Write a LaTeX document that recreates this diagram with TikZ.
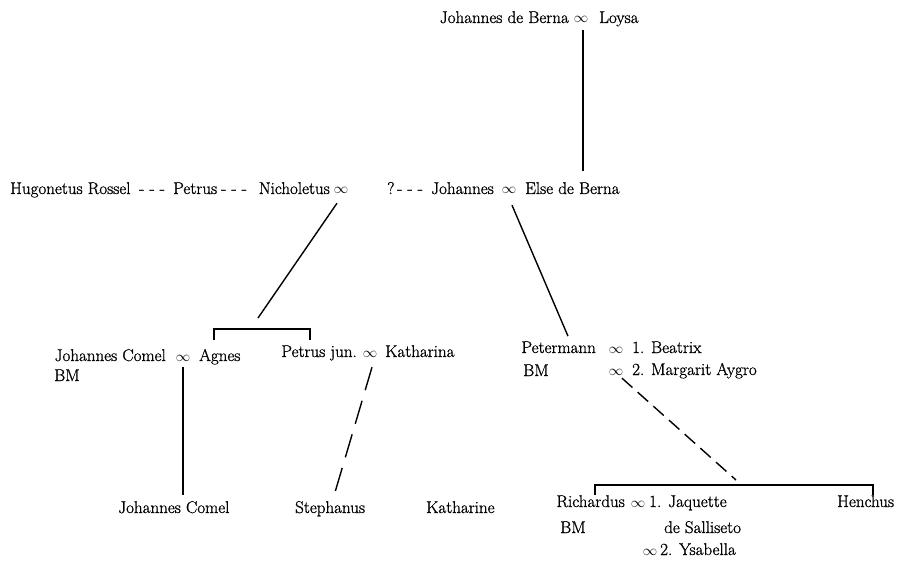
\documentclass[tikz,border=0pt]{standalone}
\usepackage{fontspec}
\setmainfont{Latin Modern Roman}[FakeBold=1]
\begin{document}
\begin{tikzpicture}[x=1pt,y=-1pt,
  txt/.style={anchor=base west, inner sep=0pt, font=\fontsize{17}{20}\selectfont},
  txr/.style={txt, anchor=base east},
  inf/.style={anchor=base, inner sep=0pt, font=\fontsize{15}{18}\selectfont},
  link/.style={line width=1.4pt},
  dlong/.style={link, dash pattern=on 24pt off 11pt},
  dshort/.style={link, dash pattern=on 14pt off 7pt}]
\useasboundingbox (0,0) rectangle (910,561);
% row 1
\node[txr] (jdb) at (569,23) {Johannes de Berna};
\node[inf] (m1) at (581,23) {$\infty$};
\node[txt] (loysa) at (599,23) {Loysa};
% row 2
\node[txt] (hug) at (10,194) {Hugonetus Rossel};
\node[txt] (d1) at (139,194) {- - -};
\node[txt] (pet) at (173,194) {Petrus};
\node[txt] (d2) at (221,194) {- - -};
\node[txr] (nich) at (330,194) {Nicholetus};
\node[inf] (m2) at (341,194) {$\infty$};
\node[txt] (q) at (387,194) {?};
\node[txt] (d3) at (397,194) {- - -};
\node[txr] (joh) at (494,194) {Johannes};
\node[inf] (m3) at (509,194) {$\infty$};
\node[txt] (else) at (525,194) {Else de Berna};
% row 3
\node[txr] (jc) at (166,361) {Johannes Comel};
\node[inf] (m4) at (183,361) {$\infty$};
\node[txt] (agnes) at (199,361) {Agnes};
\node[txt] (bm1) at (54,381) {BM};
\node[txr] (pj) at (357,357) {Petrus jun.};
\node[inf] (m5) at (370,357) {$\infty$};
\node[txt] (kath) at (385,357) {Katharina};
\node[txr] (peter) at (596,353) {Petermann};
\node[inf] (m6) at (616,353) {$\infty$};
\node[txt] (beat) at (632,353) {1. Beatrix};
\node[txt] (bm2) at (523,376) {BM};
\node[inf] (m7) at (616,375) {$\infty$};
\node[txt] (marg) at (632,375) {2. Margarit Aygro};
% row 4
\node[txt] (jc2) at (118,513) {Johannes Comel};
\node[txt] (steph) at (295,513) {Stephanus};
\node[txt] (kathe) at (426,513) {Katharine};
\node[txr] (rich) at (625,507) {Richardus};
\node[inf] (m8) at (638,507) {$\infty$};
\node[txt] (jaq) at (649,507) {1. Jaquette};
\node[txt] (bm3) at (560,533) {BM};
\node[txt] (sall) at (664,533) {de Salliseto};
\node[inf] (m9) at (650,555) {$\infty$};
\node[txt] (ysa) at (660,555) {2. Ysabella};
\node[txt] (hen) at (837,507) {Henchus};
% bracket coordinates
\coordinate (kb) at (258,318);
\coordinate (sibAL) at (214,340);
\coordinate (sibAR) at (310,340);
\coordinate (rb) at (736,480);
\coordinate (sibBL) at (595,495);
\coordinate (sibBR) at (873,495);
% connectors
\draw[link] ([shift={(2pt,-7pt)}]m1.south) -- ([shift={(2pt,11pt)}]m1.south |- else.north);
\draw[link] ([shift={(-4pt,-9pt)}]m2.south) -- (kb);
\draw[link] (sibAL) -- ++(0,-11) -| (sibAR);
\draw[link] ([shift={(3pt,-11pt)}]m3.south) -- ([shift={(-28pt,5pt)}]peter.north east);
\draw[link] ([yshift=-6pt]m4.south) -- ([yshift=5.6pt]m4.south |- jc2.north);
\draw[dlong] ([shift={(2pt,-10pt)}]m5.south) -- ([shift={(4pt,5.6pt)}]steph.north);
\draw[dshort] ([shift={(6pt,-3pt)}]m7.south) -- (rb);
\draw[link] (sibBL) -- ++(0,-10) -| (sibBR);
\end{tikzpicture}
\end{document}
